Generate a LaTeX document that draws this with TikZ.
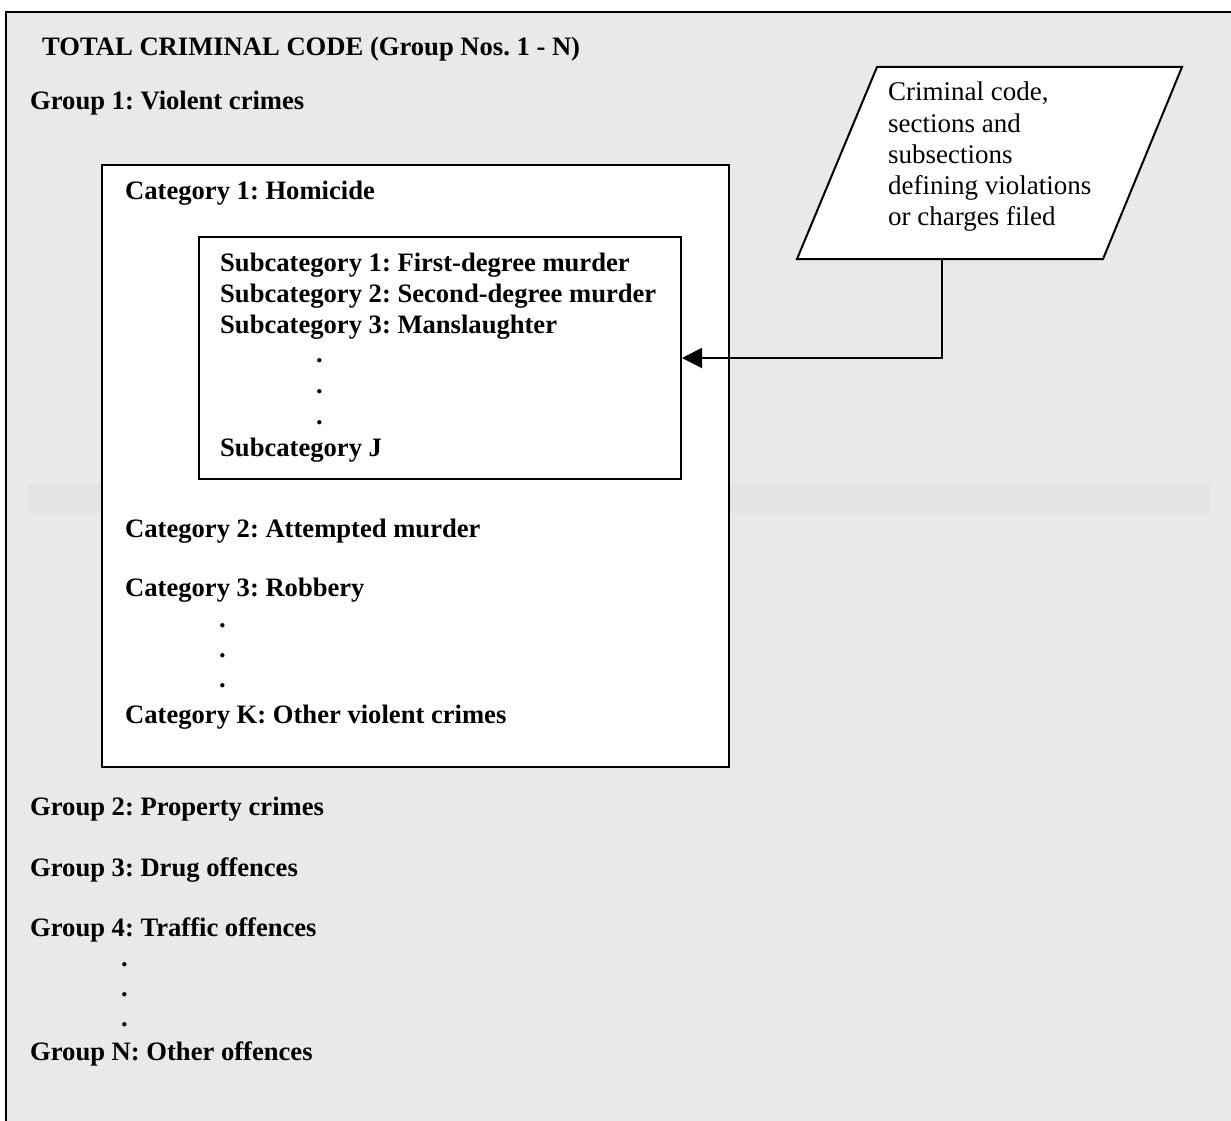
\documentclass[tikz,border=0pt]{standalone}
\usepackage{fontspec}
\setmainfont{Liberation Serif}
\usetikzlibrary{arrows.meta}
\definecolor{bgc}{HTML}{E9E9E9}
\definecolor{bandc}{HTML}{E4E4E4}
\frenchspacing
\begin{document}
\begin{tikzpicture}[x=1pt,y=-1pt,
  lbl/.style={anchor=base west, inner sep=0pt, font=\fontsize{26.6}{31}\selectfont\bfseries},
  ptxt/.style={anchor=base west, inner sep=0pt, font=\fontsize{27}{31}\selectfont},
  frame/.style={draw=black, line width=2pt, fill=white},
  boxnode/.style={frame, inner sep=0pt, anchor=north west},
  conn/.style={line width=2pt, -{Triangle[length=20pt,width=20pt]}}
]
\useasboundingbox (0,0) rectangle (1231,1121);
\fill[bgc] (6,12) rectangle (1231,1121);
\draw[line width=2pt] (1231,12) -- (6,12) -- (6,1121);
\fill[bandc] (28,484) rectangle (1210,513);
% boxes
\node[boxnode, minimum width=627pt, minimum height=602pt] (cat) at (101,164) {};
\node[boxnode, minimum width=482pt, minimum height=242pt] (sub) at (198,236) {};
\draw[frame, line join=miter] (877,67) -- (1182,67) -- (1103,259) -- (797,259) -- cycle;
\coordinate (pbot) at (942,259);
\draw[conn] (pbot) |- (sub.east);
% texts
\node[lbl] (total) at (42,56) {TOTAL CRIMINAL CODE (Group Nos. 1 - N)};
\node[lbl] (g1) at (30,110) {Group 1: Violent crimes};
\node[lbl] (c1) at (125,199) {Category 1: Homicide};
\node[lbl] (s1) at (220,271) {Subcategory 1: First-degree murder};
\node[lbl] (s2) at (220,302) {Subcategory 2: Second-degree murder};
\node[lbl] (s3) at (220,333) {Subcategory 3: Manslaughter};
\node[lbl] (sd1) at (316,362) {.};
\node[lbl] (sd2) at (316,393) {.};
\node[lbl] (sd3) at (316,424) {.};
\node[lbl] (sj) at (220,456) {Subcategory J};
\node[lbl] (c2) at (125,537) {Category 2: Attempted murder};
\node[lbl] (c3) at (125,596) {Category 3: Robbery};
\node[lbl] (cd1) at (219,627) {.};
\node[lbl] (cd2) at (219,657) {.};
\node[lbl] (cd3) at (219,687) {.};
\node[lbl] (ck) at (125,723) {Category K: Other violent crimes};
\node[lbl] (g2) at (30,815) {Group 2: Property crimes};
\node[lbl] (g3) at (30,876) {Group 3: Drug offences};
\node[lbl] (g4) at (30,936) {Group 4: Traffic offences};
\node[lbl] (gd1) at (121,966) {.};
\node[lbl] (gd2) at (121,996) {.};
\node[lbl] (gd3) at (121,1026) {.};
\node[lbl] (gn) at (30,1060) {Group N: Other offences};
% parallelogram text
\node[ptxt] (p1) at (888,101) {Criminal code,};
\node[ptxt] (p2) at (888,132) {sections and};
\node[ptxt] (p3) at (888,163) {subsections};
\node[ptxt] (p4) at (888,194) {defining violations};
\node[ptxt] (p5) at (888,225) {or charges filed};
\end{tikzpicture}
\end{document}
